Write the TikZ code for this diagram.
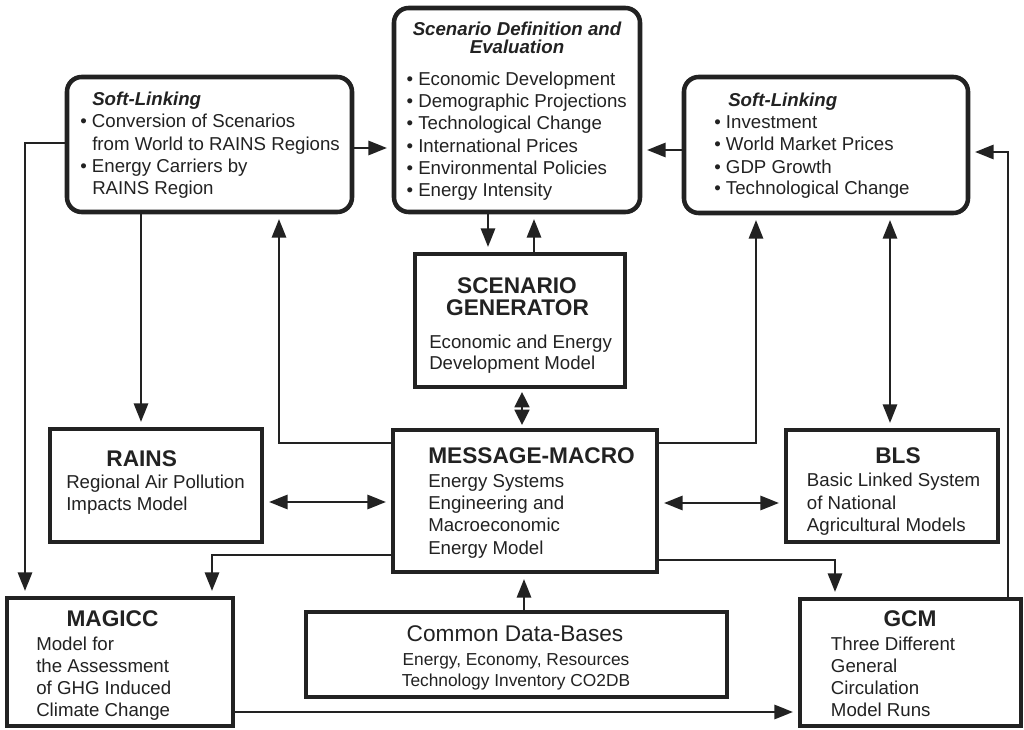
\documentclass[tikz,border=0pt]{standalone}
\usepackage{fontspec}
\setmainfont{Liberation Sans}
\usetikzlibrary{arrows.meta}
\definecolor{ink}{HTML}{222222}
\begin{document}
\begin{tikzpicture}[x=0.75pt,y=-0.75pt,
  frame/.style={draw=ink,line width=3.4pt,fill=white,inner sep=0pt,rectangle},
  rframe/.style={frame,rounded corners=11pt},
  body/.style={anchor=base west,inner sep=0pt,text=ink,font=\fontsize{14}{16}\selectfont},
  bodyc/.style={body,anchor=base},
  small/.style={anchor=base,inner sep=0pt,text=ink,font=\fontsize{13}{15}\selectfont},
  ttl/.style={anchor=base,inner sep=0pt,text=ink,font=\bfseries\fontsize{17}{20}\selectfont},
  ttlw/.style={ttl,anchor=base west},
  bigreg/.style={anchor=base,inner sep=0pt,text=ink,font=\fontsize{17}{20}\selectfont},
  hd/.style={anchor=base west,inner sep=0pt,text=ink,font=\bfseries\itshape\fontsize{14}{16}\selectfont},
  hdc/.style={hd,anchor=base},
  conn/.style={draw=ink,line width=2.1pt,-{Triangle[length=14pt,width=10.5pt]},shorten >=3.5pt},
  conntwo/.style={draw=ink,line width=2.1pt,{Triangle[length=14pt,width=10.5pt]}-{Triangle[length=14pt,width=10.5pt]},shorten >=3.5pt,shorten <=3.5pt}
]
\useasboundingbox (0,0) rectangle (1024,730);
\fill[white] (0,0) rectangle (1024,730);

% ---------- boxes ----------
\node[rframe,minimum width=213.75pt,minimum height=101.25pt] (sl1) at (209.5,144.5) {};
\node[rframe,minimum width=184.5pt,minimum height=153pt] (sd) at (517,110) {};
\node[rframe,minimum width=213pt,minimum height=102pt] (sl2) at (826,145) {};
\node[frame,minimum width=157.5pt,minimum height=99.75pt] (sg) at (520,320.5) {};
\node[frame,minimum width=198pt,minimum height=106.5pt] (mm) at (525,501) {};
\node[frame,minimum width=159pt,minimum height=84.75pt] (rains) at (156,485.5) {};
\node[frame,minimum width=159pt,minimum height=84pt] (bls) at (892,486) {};
\node[frame,minimum width=169.5pt,minimum height=96pt] (magicc) at (120,662) {};
\node[frame,minimum width=165.75pt,minimum height=95.25pt] (gcm) at (910.5,662.5) {};
\node[frame,minimum width=315.75pt,minimum height=63.75pt] (cdb) at (516.5,654.5) {};

% ---------- texts: left soft-linking ----------
\node[hd] (sl1h) at (92,106) {Soft-Linking};
\node[body] (sl1a) at (80,128) {• Conversion of Scenarios};
\node[body] (sl1b) at (92,150.5) {from World to RAINS Regions};
\node[body] (sl1c) at (80,172.5) {• Energy Carriers by};
\node[body] (sl1d) at (92,195) {RAINS Region};

% ---------- scenario definition ----------
\node[hdc] (sdh1) at (517,36) {Scenario Definition and};
\node[hdc] (sdh2) at (517,53.3) {Evaluation};
\node[body] (sda) at (406.3,86) {• Economic Development};
\node[body] (sdb) at (406.3,108) {• Demographic Projections};
\node[body] (sdc) at (406.3,130) {• Technological Change};
\node[body] (sdd) at (406.3,152.5) {• International Prices};
\node[body] (sde) at (406.3,175) {• Environmental Policies};
\node[body] (sdf) at (406.3,197) {• Energy Intensity};

% ---------- right soft-linking ----------
\node[hd] (sl2h) at (728,106.7) {Soft-Linking};
\node[body] (sl2a) at (714,128.3) {• Investment};
\node[body] (sl2b) at (714,150.7) {• World Market Prices};
\node[body] (sl2c) at (714,173.3) {• GDP Growth};
\node[body] (sl2d) at (714,195) {• Technological Change};

% ---------- scenario generator ----------
\node[ttl] (sgt1) at (517,294) {SCENARIO};
\node[ttl] (sgt2) at (517.5,316) {GENERATOR};
\node[body] (sga) at (429,348.3) {Economic and Energy};
\node[body] (sgb) at (429,369.3) {Development Model};

% ---------- message-macro ----------
\node[ttlw] (mmt) at (428,464) {MESSAGE-MACRO};
\node[body] (mma) at (428,487.3) {Energy Systems};
\node[body] (mmb) at (428,509.3) {Engineering and};
\node[body] (mmc) at (428,531.7) {Macroeconomic};
\node[body] (mmd) at (428,554) {Energy Model};

% ---------- rains ----------
\node[ttl] (rt) at (141.7,466.7) {RAINS};
\node[body] (ra) at (66,488.3) {Regional Air Pollution};
\node[body] (rb) at (66,510) {Impacts Model};

% ---------- bls ----------
\node[ttl] (bt) at (898,463.3) {BLS};
\node[body] (ba) at (806.7,486.7) {Basic Linked System};
\node[body] (bb) at (806.7,509) {of National};
\node[body] (bc) at (806.7,531) {Agricultural Models};

% ---------- magicc ----------
\node[ttl] (mgt) at (112.5,626) {MAGICC};
\node[body] (mga) at (36,650) {Model for};
\node[body] (mgb) at (36,672.3) {the Assessment};
\node[body] (mgc) at (36,694) {of GHG Induced};
\node[body] (mgd) at (36,716) {Climate Change};

% ---------- gcm ----------
\node[ttl] (gt) at (910,626.7) {GCM};
\node[body] (ga) at (830.7,650) {Three Different};
\node[body] (gb) at (830.7,672.3) {General};
\node[body] (gc) at (830.7,694) {Circulation};
\node[body] (gd) at (830.7,716) {Model Runs};

% ---------- common data-bases ----------
\node[bigreg] (ct) at (515,641.7) {Common Data-Bases};
\node[small] (ca) at (516,665) {Energy, Economy, Resources};
\node[small] (cb) at (516,686.7) {Technology Inventory CO2DB};

% ---------- bend points ----------
\coordinate (k1) at (25,143);
\coordinate (k2) at (279,443);
\coordinate (k3) at (756,443);
\coordinate (k4) at (212,555);
\coordinate (k5) at (835,560);
\coordinate (k6) at (1008,152);

% ---------- connectors ----------
\draw[conn] (sl1.east |- 0,148) -- (sd.west |- 0,148);
\draw[conn] (sl2.west |- 0,150) -- (sd.east |- 0,150);
\draw[conn] (sd.south -| 488,0) -- (sg.north -| 488,0);
\draw[conn] (sg.north -| 534,0) -- (sd.south -| 534,0);
\draw[draw=ink,line width=2.1pt,{Triangle[length=11.5pt,width=11pt]}-{Triangle[length=11.5pt,width=11pt]},shorten >=2pt,shorten <=2pt] (sg.south -| 522,0) -- (mm.north -| 522,0);
\draw[conn] (sl1.south -| 141,0) -- (rains.north -| 141,0);
\draw[conn] (sl1.west |- k1) -- (k1) -- (magicc.north -| k1);
\draw[conn] (mm.west |- k2) -- (k2) -- (sl1.south -| k2);
\draw[conn] (mm.east |- k3) -- (k3) -- (sl2.south -| k3);
\draw[conntwo] (rains.east |- 0,502) -- (mm.west |- 0,502);
\draw[conntwo] (mm.east |- 0,503) -- (bls.west |- 0,503);
\draw[conntwo] (sl2.south -| 890,0) -- (bls.north -| 890,0);
\draw[conn] (mm.west |- k4) -- (k4) -- (magicc.north -| k4);
\draw[conn] (mm.east |- k5) -- (k5) -- (gcm.north -| k5);
\draw[conn] (cdb.north -| 524,0) -- (mm.south -| 524,0);
\draw[conn] (magicc.east |- 0,712) -- (gcm.west |- 0,712);
\draw[conn] (gcm.north -| k6) -- (k6) -- (sl2.east |- k6);
\end{tikzpicture}
\end{document}
